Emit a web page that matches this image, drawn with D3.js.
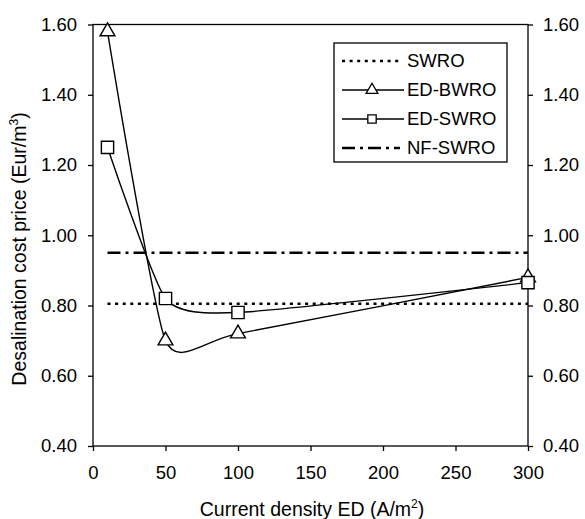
<!DOCTYPE html>
<html>
<head>
<meta charset="utf-8">
<script src="https://cdn.jsdelivr.net/npm/d3@7"></script>
<style>
  body { margin: 0; background: #fff; }
  svg { display: block; font-family: "Liberation Sans", Arial, sans-serif; }
</style>
</head>
<body>
<div id="chart"></div>
<script>
const currentDensity = [10, 50, 100, 300];
const edBwro = [1.58, 0.70, 0.72, 0.88];
const edSwro = [1.25, 0.82, 0.78, 0.865];
const swroLevel = 0.805;
const nfSwroLevel = 0.95;
const xTicks = [0, 50, 100, 150, 200, 250, 300];
const yTicks = [0.4, 0.6, 0.8, 1.0, 1.2, 1.4, 1.6];
const legendLabels = ["SWRO", "ED-BWRO", "ED-SWRO", "NF-SWRO"];

const width = 585;
const height = 519;
const margin = { top: 24.5, right: 57, bottom: 73, left: 93 };
const fontSize = 18.5;

const x = d3
  .scaleLinear()
  .domain([0, 300])
  .range([margin.left, width - margin.right]);
const y = d3
  .scaleLinear()
  .domain([0.4, 1.6])
  .range([height - margin.bottom, margin.top]);

// Excel-style smoothed line, a bit tighter than plain Catmull-Rom
const line = d3
  .line()
  .x((d) => x(d[0]))
  .y((d) => y(d[1]))
  .curve(d3.curveCardinal.tension(0.45));

const svg = d3
  .select("#chart")
  .append("svg")
  .attr("width", width)
  .attr("height", height)
  .attr("viewBox", [0, 0, width, height]);

// frame
svg
  .append("rect")
  .attr("x", x(0))
  .attr("y", y(1.6))
  .attr("width", x(300) - x(0))
  .attr("height", y(0.4) - y(1.6))
  .attr("fill", "none")
  .attr("stroke", "#000")
  .attr("stroke-width", 1.3);

const styleAxis = (g) =>
  g
    .attr("font-size", fontSize)
    .attr("font-family", null)
    .call((g) => g.select(".domain").remove())
    .call((g) => g.selectAll(".tick line").attr("stroke-width", 1.3));

svg
  .append("g")
  .attr("transform", `translate(0,${y(0.4)})`)
  .call(d3.axisBottom(x).tickValues(xTicks).tickSize(5).tickPadding(15))
  .call(styleAxis);

svg
  .append("g")
  .attr("transform", `translate(${x(0)},0)`)
  .call(
    d3.axisLeft(y).tickValues(yTicks).tickFormat(d3.format(".2f")).tickSize(5).tickPadding(11)
  )
  .call(styleAxis);

svg
  .append("g")
  .attr("transform", `translate(${x(300)},0)`)
  .call(
    d3.axisRight(y).tickValues(yTicks).tickFormat(d3.format(".2f")).tickSize(5).tickPadding(10)
  )
  .call(styleAxis);

// axis titles
const xTitle = svg
  .append("text")
  .attr("x", 312)
  .attr("y", 516)
  .attr("text-anchor", "middle")
  .attr("font-size", 19.5)
  .text("Current density ED (A/m");
xTitle.append("tspan").attr("dy", -8).attr("font-size", 12).text("2");
xTitle.append("tspan").attr("dy", 8).text(")");

const yTitle = svg
  .append("text")
  .attr("transform", "translate(26,249) rotate(-90)")
  .attr("text-anchor", "middle")
  .attr("font-size", 19.5)
  .text("Desalination cost price (Eur/m");
yTitle.append("tspan").attr("dy", -8).attr("font-size", 12).text("3");
yTitle.append("tspan").attr("dy", 8).text(")");

// reference lines
const dotted = { dash: "3 4.6", width: 2.6 };
const dashDot = { dash: "13 5 3 5", width: 2.6 };

svg
  .append("line")
  .attr("x1", x(currentDensity[0]))
  .attr("x2", x(300))
  .attr("y1", y(swroLevel))
  .attr("y2", y(swroLevel))
  .attr("stroke", "#000")
  .attr("stroke-width", dotted.width)
  .attr("stroke-dasharray", dotted.dash);

svg
  .append("line")
  .attr("x1", x(currentDensity[0]))
  .attr("x2", x(300))
  .attr("y1", y(nfSwroLevel))
  .attr("y2", y(nfSwroLevel))
  .attr("stroke", "#000")
  .attr("stroke-width", dashDot.width)
  .attr("stroke-dasharray", dashDot.dash);

// series
const triangle = d3.symbol().type(d3.symbolTriangle);
const square = d3.symbol().type(d3.symbolSquare);

const series = [
  { values: edBwro, symbol: triangle, size: 95 },
  { values: edSwro, symbol: square, size: 150 },
];

series.forEach((s) => {
  const pts = currentDensity.map((c, i) => [c, s.values[i]]);
  svg
    .append("path")
    .datum(pts)
    .attr("fill", "none")
    .attr("stroke", "#000")
    .attr("stroke-width", 1.4)
    .attr("d", line);
  svg
    .append("g")
    .selectAll("path")
    .data(pts)
    .join("path")
    .attr("transform", (d) => `translate(${x(d[0])},${y(d[1])})`)
    .attr("d", s.symbol.size(s.size))
    .attr("fill", "#fff")
    .attr("stroke", "#000")
    .attr("stroke-width", 1.4);
});

// legend
const legend = svg.append("g").attr("transform", "translate(334,43)");
legend
  .append("rect")
  .attr("width", 173)
  .attr("height", 119)
  .attr("fill", "#fff")
  .attr("stroke", "#000")
  .attr("stroke-width", 1.3);

const legendItems = legend
  .selectAll(".item")
  .data(legendLabels)
  .join("g")
  .attr("class", "item")
  .attr("transform", (d, i) => `translate(0,${18 + i * 29})`);

legendItems
  .append("line")
  .attr("x1", 8)
  .attr("x2", (d, i) => (i === 1 || i === 2 ? 70 : 66))
  .attr("stroke", "#000")
  .attr("stroke-width", (d, i) => (i === 0 ? dotted.width : i === 3 ? dashDot.width : 1.4))
  .attr("stroke-dasharray", (d, i) => (i === 0 ? dotted.dash : i === 3 ? dashDot.dash : null));

legendItems
  .filter((d, i) => i === 1 || i === 2)
  .append("path")
  .attr("transform", "translate(38,0)")
  .attr("d", (d, i) => (i === 0 ? triangle.size(60)() : square.size(70)()))
  .attr("fill", "#fff")
  .attr("stroke", "#000")
  .attr("stroke-width", 1.3);

legendItems
  .append("text")
  .attr("x", 73)
  .attr("dy", "0.35em")
  .attr("font-size", fontSize)
  .text((d) => d);
</script>
</body>
</html>
